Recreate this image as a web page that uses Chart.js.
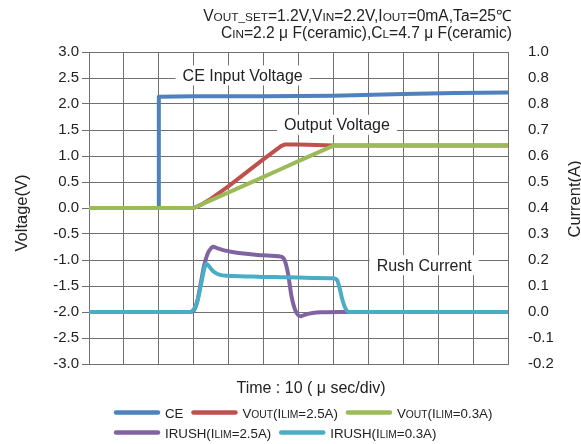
<!DOCTYPE html>
<html>
<head>
<meta charset="utf-8">
<script src="https://cdn.jsdelivr.net/npm/chart.js@4.4.1/dist/chart.umd.min.js"></script>
<style>
  html, body { margin: 0; padding: 0; background: #ffffff; }
  canvas { display: block; }
</style>
</head>
<body>
<canvas id="chart" width="581" height="444"></canvas>
<script>
// ---- Waveform data (time in µs, voltages in V, currents in A) ----
const ceTime = [0, 20, 20, 30, 50, 70, 90, 105, 120];
const ceVolt = [0, 0, 2.14, 2.15, 2.15, 2.16, 2.19, 2.21, 2.22];

const vout25Time = [0, 30, 32, 35, 40, 45, 50, 55, 56, 60, 65, 70, 90, 120];
const vout25Volt = [0, 0, 0.06, 0.18, 0.42, 0.68, 0.94, 1.19, 1.22, 1.22, 1.21, 1.2, 1.2, 1.2];

const vout03Time = [0, 30, 35, 40, 45, 50, 55, 60, 65, 70, 90, 120];
const vout03Volt = [0, 0, 0.15, 0.3, 0.45, 0.6, 0.75, 0.9, 1.05, 1.2, 1.2, 1.2];

const irush25Time = [0, 29, 30, 31, 32, 33, 34, 35, 35.5, 37, 39, 41, 45, 50, 55, 56, 57, 58, 59.3, 60.7, 62, 64, 67, 72, 120];
const irush25Amp  = [0, 0, 0.005, 0.04, 0.11, 0.18, 0.225, 0.246, 0.251, 0.244, 0.236, 0.231, 0.224, 0.218, 0.213, 0.2, 0.148, 0.06, 0.0, -0.016, -0.01, -0.004, -0.001, 0, 0];

const irush03Time = [0, 29, 30, 31, 32, 33, 33.5, 34, 35, 36, 37.5, 40, 45, 50, 55, 60, 65, 70, 71, 71.8, 72.6, 73.5, 74.5, 90, 120];
const irush03Amp  = [0, 0, 0.01, 0.04, 0.1, 0.165, 0.186, 0.182, 0.165, 0.152, 0.143, 0.139, 0.137, 0.135, 0.134, 0.133, 0.131, 0.13, 0.124, 0.09, 0.045, 0.012, 0, 0, 0];

// ---- Axis tick labels ----
const voltTicks = [-3.0, -2.5, -2.0, -1.5, -1.0, -0.5, 0.0, 0.5, 1.0, 1.5, 2.0, 2.5, 3.0];
const currentTickLabels = ['-0.2', '-0.1', '0.0', '0.1', '0.2', '0.3', '0.4', '0.5', '0.6', '0.7', '0.8', '0.8', '1.0'];

// ---- Texts (segments written as _{...} are set in the smaller font) ----
const titleLines = [
  'V_{OUT_SET}=1.2V,V_{IN}=2.2V,I_{OUT}=0mA,Ta=25\u2103',
  'C_{IN}=2.2 \u03bc F(ceramic),C_{L}=4.7 \u03bc F(ceramic)'
];
const seriesNames = ['CE', 'V_{OUT}(I_{LIM}=2.5A)', 'V_{OUT}(I_{LIM}=0.3A)', 'IRUSH(I_{LIM}=2.5A)', 'IRUSH(I_{LIM}=0.3A)'];
const seriesColors = ['#4f81bd', '#c0504d', '#9bbb59', '#8064a2', '#4bacc6'];
const noteLabels = ['CE Input Voltage', 'Output Voltage', 'Rush Current'];
const xTitle = 'Time : 10 ( \u03bc sec/div)';
const yTitle = 'Voltage(V)';
const y1Title = 'Current(A)';

const FONT = '"Liberation Sans", Arial, Helvetica, sans-serif';
const TEXT = '#222222';
const GRID = '#707070';

function pts(xs, ys) { return xs.map((x, i) => ({ x: x, y: ys[i] })); }
function plain(s) { return s.replace(/_\{([^}]*)\}/g, '$1'); }

// split "_{...}" markup into [text, isSmall] parts
function parseRich(s) {
  const parts = [];
  const re = /_\{([^}]*)\}/g;
  let last = 0, m;
  while ((m = re.exec(s)) !== null) {
    if (m.index > last) parts.push([s.slice(last, m.index), false]);
    parts.push([m[1], true]);
    last = re.lastIndex;
  }
  if (last < s.length) parts.push([s.slice(last), false]);
  return parts;
}
function richWidth(ctx, parts, big, small) {
  let w = 0;
  parts.forEach(p => { ctx.font = (p[1] ? small : big) + 'px ' + FONT; w += ctx.measureText(p[0]).width; });
  return w;
}
function drawRich(ctx, s, x, y, big, small, align) {
  const parts = parseRich(s);
  const w = richWidth(ctx, parts, big, small);
  let cx = align === 'right' ? x - w : align === 'center' ? x - w / 2 : x;
  ctx.textAlign = 'left';
  ctx.textBaseline = 'alphabetic';
  parts.forEach(p => {
    ctx.font = (p[1] ? small : big) + 'px ' + FONT;
    ctx.fillText(p[0], cx, y);
    cx += ctx.measureText(p[0]).width;
  });
  return w;
}

// Label boxes sit over the grid but under the traces
const notes = [
  { text: noteLabels[0], x: 44, y: 2.55, axis: 'y' },
  { text: noteLabels[1], x: 71, y: 1.6, axis: 'y' },
  { text: noteLabels[2], x: 96, y: -1.1, axis: 'y' }
];

const decor = {
  id: 'decor',
  beforeDatasetsDraw(chart) {
    const ctx = chart.ctx;
    const xs = chart.scales.x;
    ctx.save();
    notes.forEach(n => {
      const px = xs.getPixelForValue(n.x);
      const py = chart.scales[n.axis].getPixelForValue(n.y);
      ctx.font = '16px ' + FONT;
      const w = ctx.measureText(n.text).width;
      ctx.fillStyle = '#ffffff';
      ctx.fillRect(px - w / 2 - 7, py - 10, w + 14, 20);
      ctx.fillStyle = TEXT;
      ctx.textAlign = 'center';
      ctx.textBaseline = 'middle';
      ctx.fillText(n.text, px, py + 1);
    });
    ctx.restore();
  },
  afterDraw(chart) {
    const ctx = chart.ctx;
    const area = chart.chartArea;
    ctx.save();
    ctx.fillStyle = TEXT;

    // condition lines above the plot
    drawRich(ctx, titleLines[0], 512, 21, 15.6, 11.8, 'right');
    drawRich(ctx, titleLines[1], 512, 38, 15.6, 11.8, 'right');

    // axis titles
    ctx.font = '16.5px ' + FONT;
    ctx.textAlign = 'center';
    ctx.textBaseline = 'middle';
    ctx.save();
    ctx.translate(22, (area.top + area.bottom) / 2 + 5);
    ctx.rotate(-Math.PI / 2);
    ctx.fillText(yTitle, 0, 0);
    ctx.restore();
    ctx.save();
    ctx.translate(575, (area.top + area.bottom) / 2 - 9);
    ctx.rotate(-Math.PI / 2);
    ctx.fillText(y1Title, 0, 0);
    ctx.restore();

    ctx.font = '16px ' + FONT;
    ctx.textBaseline = 'alphabetic';
    ctx.fillText(xTitle, 311, 393);

    // legend: two rows of line samples with labels
    const rows = [[0, 1, 2], [3, 4]];
    const rowY = [412.5, 432.5];
    rows.forEach((row, r) => {
      let x = 116;
      row.forEach(i => {
        const ds = chart.data.datasets[i];
        ctx.strokeStyle = ds.borderColor;
        ctx.lineWidth = 4.5;
        ctx.lineCap = 'round';
        ctx.beginPath();
        ctx.moveTo(x, rowY[r]);
        ctx.lineTo(x + 42, rowY[r]);
        ctx.stroke();
        ctx.fillStyle = TEXT;
        const w = drawRich(ctx, seriesNames[i], x + 49, rowY[r] + 5, 13.3, 10.3, 'left');
        x += 49 + w + 10;
      });
    });
    ctx.restore();
  }
};

function lineSet(i, xs, ys, axis, order, smooth) {
  return {
    label: plain(seriesNames[i]),
    data: pts(xs, ys),
    yAxisID: axis,
    order: order,
    borderColor: seriesColors[i],
    backgroundColor: seriesColors[i],
    borderWidth: 4,
    pointRadius: 0,
    fill: false,
    borderCapStyle: 'round',
    borderJoinStyle: 'round',
    cubicInterpolationMode: smooth ? 'monotone' : 'default',
    tension: 0
  };
}

new Chart(document.getElementById('chart'), {
  type: 'line',
  data: {
    datasets: [
      lineSet(0, ceTime, ceVolt, 'y', 4, false),
      lineSet(1, vout25Time, vout25Volt, 'y', 3, false),
      lineSet(2, vout03Time, vout03Volt, 'y', 2, false),
      lineSet(3, irush25Time, irush25Amp, 'y1', 1, true),
      lineSet(4, irush03Time, irush03Amp, 'y1', 0, true)
    ]
  },
  options: {
    responsive: false,
    animation: false,
    devicePixelRatio: 1,
    layout: { padding: { top: 52, left: 0, right: 0, bottom: 0 } },
    plugins: { legend: { display: false }, tooltip: { enabled: false }, title: { display: false } },
    scales: {
      x: {
        type: 'linear', min: 0, max: 120,
        ticks: { display: false, stepSize: 10 },
        grid: { color: GRID, lineWidth: 1, drawTicks: false },
        border: { color: GRID, width: 1 },
        afterFit(s) { s.height = 80; }
      },
      y: {
        position: 'left', min: -3, max: 3,
        afterBuildTicks(s) { s.ticks = voltTicks.map(v => ({ value: v })); },
        ticks: {
          color: TEXT, padding: 3, font: { family: FONT, size: 15 },
          callback: v => Number(v).toFixed(1)
        },
        grid: { color: GRID, lineWidth: 1, drawTicks: true, tickLength: 7 },
        border: { color: GRID, width: 1 },
        afterFit(s) { s.width = 89; }
      },
      y1: {
        position: 'right', min: -0.2, max: 1.0,
        afterBuildTicks(s) { s.ticks = currentTickLabels.map((t, i) => ({ value: -0.2 + i * 0.1 })); },
        ticks: {
          color: TEXT, padding: 20, font: { family: FONT, size: 15 },
          callback: (v, i) => currentTickLabels[i]
        },
        grid: { display: false, drawTicks: false },
        border: { color: GRID, width: 1 },
        afterFit(s) { s.width = 73; }
      }
    }
  },
  plugins: [decor]
});
</script>
</body>
</html>
